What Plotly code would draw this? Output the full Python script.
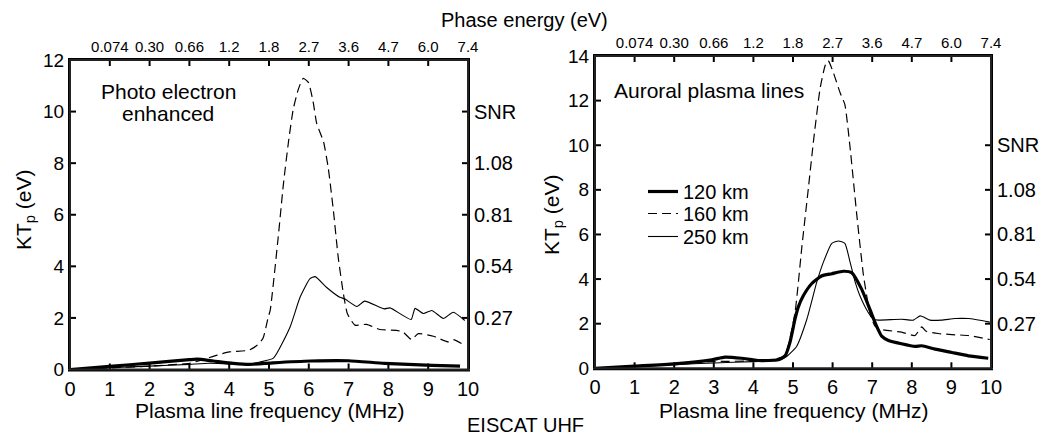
import plotly.graph_objects as go

# ---------------- data ----------------
freq_ticks = [0, 1, 2, 3, 4, 5, 6, 7, 8, 9, 10]
phase_tick_pos = [1, 2, 3, 4, 5, 6, 7, 8, 9, 10]
phase_tick_labels = ["0.074", "0.30", "0.66", "1.2", "1.8", "2.7", "3.6", "4.7", "6.0", "7.4"]
snr_tick_pos = [2, 4, 6, 8, 10]
snr_tick_labels = ["0.27", "0.54", "0.81", "1.08", "SNR"]
series_names = ["120 km", "160 km", "250 km"]

# Left panel: photo electron enhanced
left_120_f = [0, 1.0, 2.0, 3.0, 3.2, 3.6, 4.1, 4.5, 5.1, 6.05, 7.0, 7.9, 9.1, 9.8]
left_120_v = [0, 0.12, 0.25, 0.38, 0.4, 0.33, 0.24, 0.2, 0.26, 0.33, 0.34, 0.24, 0.16, 0.13]

left_160_f = [0, 1.0, 2.0, 3.0, 3.35, 3.7, 4.0, 4.5, 4.7, 4.85, 4.98, 5.03, 5.23, 5.36, 5.49,
              5.61, 5.74, 5.86, 5.99, 6.11, 6.2, 6.37, 6.49, 6.62, 6.74, 6.87, 6.97, 7.16,
              7.45, 7.79, 8.2, 8.37, 8.58, 8.75, 9.13, 9.5, 9.63, 9.92]
left_160_v = [0, 0.06, 0.13, 0.24, 0.39, 0.56, 0.68, 0.75, 0.94, 1.21, 2.03, 2.29, 5.11, 7.16, 8.83,
              10.1, 10.88, 11.29, 11.13, 10.37, 9.53, 8.83, 7.8, 6.13, 4.34, 2.93, 2.16, 1.72,
              1.75, 1.55, 1.52, 1.45, 1.16, 1.39, 1.29, 1.07, 1.16, 0.94]

left_250_f = [0, 1.0, 2.0, 3.0, 3.5, 4.0, 4.52, 4.77, 5.11, 5.53, 5.78, 6.03, 6.16, 6.45, 6.78,
              6.9, 7.21, 7.4, 7.89, 8.04, 8.57, 8.67, 8.88, 9.09, 9.38, 9.63, 9.92]
left_250_v = [0, 0.07, 0.13, 0.2, 0.24, 0.22, 0.21, 0.29, 0.44, 1.65, 2.8, 3.52, 3.6, 3.18, 2.8,
              2.74, 2.44, 2.65, 2.35, 2.39, 1.94, 2.37, 2.17, 2.29, 1.98, 2.22, 1.9]

# Right panel: auroral plasma lines
right_120_f = [0, 1.0, 2.0, 2.95, 3.28, 3.7, 4.12, 4.63, 4.8, 4.92, 5.05, 5.13, 5.26, 5.47, 5.72,
               5.98, 6.27, 6.48, 6.73, 6.94, 7.11, 7.24, 7.41, 7.74, 8.08, 8.25, 8.59, 9.01,
               9.43, 9.93]
right_120_v = [0, 0.1, 0.2, 0.38, 0.5, 0.45, 0.35, 0.38, 0.56, 1.14, 2.2, 2.73, 3.25, 3.79, 4.14,
               4.24, 4.35, 4.29, 3.56, 2.65, 1.89, 1.44, 1.25, 1.1, 0.98, 1.01, 0.86, 0.71,
               0.56, 0.45]

right_160_f = [0, 1.0, 2.0, 3.0, 4.0, 4.5, 4.8, 5.05, 5.22, 5.39, 5.51, 5.68, 5.81, 5.89, 6.02,
               6.19, 6.31, 6.44, 6.61, 6.78, 6.94, 7.07, 7.24, 7.74, 8.08, 8.25, 8.35, 8.67,
               9.01, 9.43, 9.97]
right_160_v = [0, 0.1, 0.2, 0.3, 0.33, 0.38, 0.6, 2.5, 5.38, 8.1, 10.07, 12.5, 13.56, 13.79, 13.25,
               12.35, 11.82, 9.92, 6.89, 4.16, 2.5, 1.89, 1.74, 1.62, 1.47, 1.86, 1.67, 1.56,
               1.51, 1.47, 1.29]

right_250_f = [0, 1.0, 2.0, 3.0, 4.0, 4.5, 4.67, 4.84, 5.09, 5.35, 5.6, 5.77, 5.98, 6.15, 6.31,
               6.44, 6.57, 6.69, 6.9, 7.03, 7.15, 7.74, 8.04, 8.21, 8.33, 8.46, 8.75, 9.09,
               9.43, 9.97]
right_250_v = [0, 0.08, 0.16, 0.24, 0.3, 0.35, 0.38, 0.53, 0.98, 2.2, 3.86, 4.77, 5.6, 5.71, 5.6,
               4.77, 3.86, 3.25, 2.5, 2.2, 2.16, 2.2, 2.16, 2.35, 2.27, 2.16, 2.16, 2.23,
               2.23, 2.07]

left_ymax = 12
right_ymax = 14

# ---------------- styling ----------------
FONT = "Liberation Sans, Arial, Helvetica, sans-serif"
W, H = 1046, 439
styles = {
    "120 km": dict(color="black", width=3.2),
    "160 km": dict(color="black", width=1.2, dash="9px,5px"),
    "250 km": dict(color="black", width=1.1),
}
legend_of = {"120 km": "legend", "160 km": "legend2", "250 km": "legend3"}

fig = go.Figure()

def add_series(f, v, name, xa, ya, show):
    fig.add_trace(go.Scatter(x=f, y=v, mode="lines", name=name, line=styles[name],
                             xaxis=xa, yaxis=ya, showlegend=show, legend=legend_of[name],
                             line_shape="spline", line_smoothing=0.5, hoverinfo="skip"))

add_series(left_250_f, left_250_v, "250 km", "x", "y", False)
add_series(left_160_f, left_160_v, "160 km", "x", "y", False)
add_series(left_120_f, left_120_v, "120 km", "x", "y", False)
add_series(right_250_f, right_250_v, "250 km", "x3", "y3", True)
add_series(right_160_f, right_160_v, "160 km", "x3", "y3", True)
add_series(right_120_f, right_120_v, "120 km", "x3", "y3", True)

# empty traces so that the secondary (top / right) axes get drawn
for xa, ya in (("x2", "y2"), ("x4", "y4")):
    fig.add_trace(go.Scatter(x=[], y=[], xaxis=xa, yaxis=ya, showlegend=False,
                             hoverinfo="skip"))

def px_x(p):
    return p / W

def px_y(p):
    return 1 - p / H

left_dom_x = [px_x(70), px_x(468)]
left_dom_y = [px_y(369.5), px_y(60)]
right_dom_x = [px_x(595), px_x(991)]
right_dom_y = [px_y(368.3), px_y(56)]

axis_common = dict(showline=True, linecolor="#000000", linewidth=2, ticks="inside",
                   ticklen=6, tickcolor="#000000", tickwidth=2, showgrid=False,
                   zeroline=False, fixedrange=True, automargin=False, layer="above traces")

def bottom_x(dom, anchor):
    return dict(axis_common, domain=dom, anchor=anchor, range=[0, 10], tickvals=freq_ticks,
                tickfont=dict(family=FONT, size=20, color="black"))

def top_x(over, anchor):
    return dict(axis_common, overlaying=over, anchor=anchor, side="top", range=[0, 10],
                tickvals=phase_tick_pos, ticktext=phase_tick_labels,
                tickfont=dict(family=FONT, size=15, color="black"))

def left_y(dom, anchor, ymax):
    return dict(axis_common, domain=dom, anchor=anchor, range=[0, ymax], dtick=2, tick0=0,
                tickfont=dict(family=FONT, size=19, color="black"))

def right_y(over, anchor, ymax):
    return dict(axis_common, overlaying=over, anchor=anchor, side="right", range=[0, ymax],
                tickvals=snr_tick_pos, ticktext=snr_tick_labels,
                tickfont=dict(family=FONT, size=20, color="black"))

def legend_box(top_px):
    return dict(x=px_x(643), y=px_y(top_px), xanchor="left", yanchor="top",
                bgcolor="rgba(0,0,0,0)", borderwidth=0,
                font=dict(family=FONT, size=20, color="black"))

fig.update_layout(
    template="none",
    width=W, height=H,
    margin=dict(l=0, r=0, t=0, b=0, autoexpand=False),
    paper_bgcolor="white", plot_bgcolor="white",
    font=dict(family=FONT, size=20, color="black"),
    xaxis=bottom_x(left_dom_x, "y"),
    xaxis2=top_x("x", "y"),
    yaxis=left_y(left_dom_y, "x", left_ymax),
    yaxis2=right_y("y", "x", left_ymax),
    xaxis3=bottom_x(right_dom_x, "y3"),
    xaxis4=top_x("x3", "y3"),
    yaxis3=left_y(right_dom_y, "x3", right_ymax),
    yaxis4=right_y("y3", "x3", right_ymax),
    showlegend=True,
    legend=legend_box(172),
    legend2=legend_box(194),
    legend3=legend_box(217),
)

# plot frames (drawn as shapes on the axis domains)
for xr, yr in (("x", "y"), ("x3", "y3")):
    fig.add_shape(type="rect", xref=f"{xr} domain", yref=f"{yr} domain",
                  x0=0, x1=1, y0=0, y1=1, line=dict(color="#222222", width=2),
                  fillcolor="rgba(0,0,0,0)", layer="above")

def txt(text, x, y, size=21, angle=0, xanchor="center"):
    fig.add_annotation(text=text, x=px_x(x), y=px_y(y), xref="paper", yref="paper",
                       showarrow=False, xanchor=xanchor, yanchor="middle", textangle=angle,
                       font=dict(family=FONT, size=size, color="black"))

txt("Phase energy (eV)", 524, 20, 20)
txt("EISCAT UHF", 525, 425, 20)
txt("Plasma line frequency (MHz)", 270, 410, 21)
txt("Plasma line frequency (MHz)", 794, 410, 21)
txt("KT<sub>p</sub> (eV)", 25, 210, 21, angle=-90)
txt("KT<sub>p</sub> (eV)", 553, 215, 21, angle=-90)
txt("Photo electron", 168, 91, 21)
txt("enhanced", 168, 113, 21)
txt("Auroral plasma lines", 612, 90, 21, xanchor="left")

post_js = (
    "document.body.style.margin='0';document.body.style.overflow='hidden';"
    "var s=document.createElement('style');"
    "s.innerHTML='.crisp{shape-rendering:auto !important;}';"
    "document.head.appendChild(s);"
)
fig.write_html("out.html", post_script=post_js)
